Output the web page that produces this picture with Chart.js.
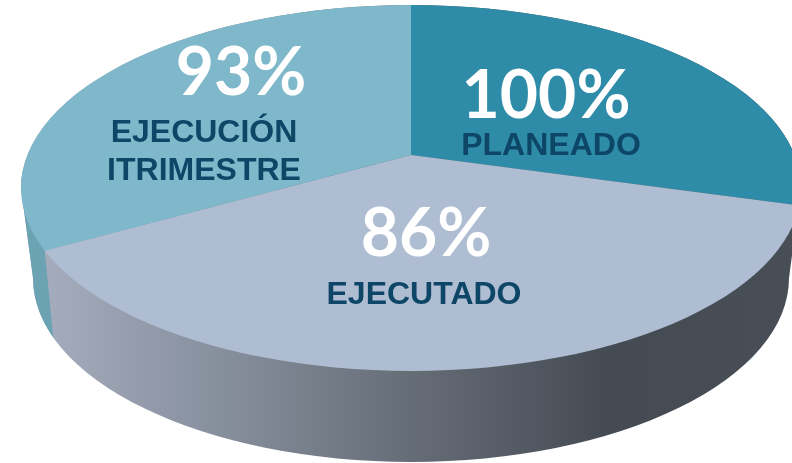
<!DOCTYPE html>
<html lang="es">
<head>
<meta charset="utf-8">
<title>Ejecución</title>
<script src="https://cdn.jsdelivr.net/npm/chart.js@4"></script>
<style>
  html, body { margin: 0; padding: 0; background: #fff; }
  canvas { display: block; }
</style>
</head>
<body>
<canvas id="pieChart" width="792" height="463"></canvas>
<script>
// ── Data ──────────────────────────────────────
const categories  = ['PLANEADO', 'EJECUTADO', 'EJECUCIÓN ITRIMESTRE'];
const percents    = [100, 86, 93];
const sliceShares = [29.3, 37.6, 33.1]; // share of the drawn pie
const sliceColors = ['#2E8CA8', '#AFBDD2', '#7FB8CA'];

// ── Fake 3D geometry ──────────────────────────
const apex   = { x: 411, y: 155 };
const topEll = { x: 411, y: 188, rx: 390, ry: 183 };
const botEll = { x: 411, y: 278, rx: 378, ry: 184 };
const squash = topEll.ry / topEll.rx;

// where a slice edge leaving the apex meets the rim of the top ellipse
function rimPoint(angle) {
  const dx = Math.cos(angle), dy = Math.sin(angle) * squash;
  const ox = (apex.x - topEll.x) / topEll.rx, oy = (apex.y - topEll.y) / topEll.ry;
  const ux = dx / topEll.rx, uy = dy / topEll.ry;
  const a = ux * ux + uy * uy, b = 2 * (ox * ux + oy * uy), c = ox * ox + oy * oy - 1;
  const t = (-b + Math.sqrt(b * b - 4 * a * c)) / (2 * a);
  return { x: apex.x + dx * t, y: apex.y + dy * t };
}

function wallPath(ctx) {
  ctx.beginPath();
  ctx.ellipse(topEll.x, topEll.y, topEll.rx, topEll.ry, 0, Math.PI, Math.PI * 2);
  ctx.lineTo(botEll.x + botEll.rx, botEll.y);
  ctx.ellipse(botEll.x, botEll.y, botEll.rx, botEll.ry, 0, 0, Math.PI);
  ctx.closePath();
}

const pie3d = {
  id: 'pie3d',
  beforeDatasetsDraw(chart) {
    const ctx = chart.ctx;
    const arcs = chart.getDatasetMeta(0).data;

    // side wall
    const grad = ctx.createLinearGradient(50, 0, 792, 0);
    grad.addColorStop(0,    '#A4ABBC');
    grad.addColorStop(0.2,  '#8A93A1');
    grad.addColorStop(0.5,  '#646B75');
    grad.addColorStop(0.75, '#454B53');
    grad.addColorStop(1,    '#484E56');
    ctx.save();
    wallPath(ctx);
    ctx.fillStyle = grad;
    ctx.fill();

    // the light slice has its own piece of wall on the far left
    const p = rimPoint(arcs[1].endAngle);
    ctx.beginPath();
    ctx.moveTo(0, 170);
    ctx.lineTo(p.x, 170);
    ctx.lineTo(p.x, p.y);
    ctx.lineTo(p.x + 12, p.y + 122);
    ctx.lineTo(0, p.y + 122);
    ctx.closePath();
    ctx.clip();
    wallPath(ctx);
    ctx.fillStyle = '#6BA3B3';
    ctx.fill();
    ctx.restore();

    // top face: slices come out of the apex, cut by the rim
    ctx.save();
    ctx.beginPath();
    ctx.ellipse(topEll.x, topEll.y, topEll.rx, topEll.ry, 0, 0, Math.PI * 2);
    ctx.clip();
    ctx.translate(apex.x, apex.y);
    ctx.scale(1, squash);
    ctx.translate(-arcs[0].x, -arcs[0].y);
  },
  afterDatasetsDraw(chart) {
    chart.ctx.restore();
  },
  afterDraw(chart) {
    const ctx = chart.ctx;
    ctx.save();
    ctx.textAlign = 'center';
    ctx.textBaseline = 'alphabetic';

    const drawPct = (i, x, y) => {
      ctx.font = 'bold 66px Lato';
      ctx.fillStyle = '#FFFFFF';
      ctx.fillText(percents[i] + '%', x, y);
    };
    const drawName = (txt, x, y) => {
      ctx.font = 'bold 32px "Liberation Sans"';
      ctx.fillStyle = '#0D4666';
      ctx.fillText(txt, x, y);
    };

    drawPct(0, 546, 118);
    drawName(categories[0], 551, 155);
    drawPct(1, 426, 256);
    drawName(categories[1], 424, 304);
    drawPct(2, 241, 95);
    const parts = categories[2].split(' ');
    drawName(parts[0], 204, 142);
    drawName(parts[1], 204, 180);
    ctx.restore();
  }
};

// ── Chart ─────────────────────────────────────
new Chart(document.getElementById('pieChart'), {
  type: 'pie',
  data: {
    labels: categories,
    datasets: [{
      data: sliceShares,
      backgroundColor: sliceColors,
      borderWidth: 0,
    }],
  },
  options: {
    responsive: false,
    animation: false,
    events: [],
    radius: 1000,
    rotation: 0,
    plugins: {
      legend: { display: false },
      tooltip: { enabled: false },
    },
  },
  plugins: [pie3d],
});
</script>
</body>
</html>
